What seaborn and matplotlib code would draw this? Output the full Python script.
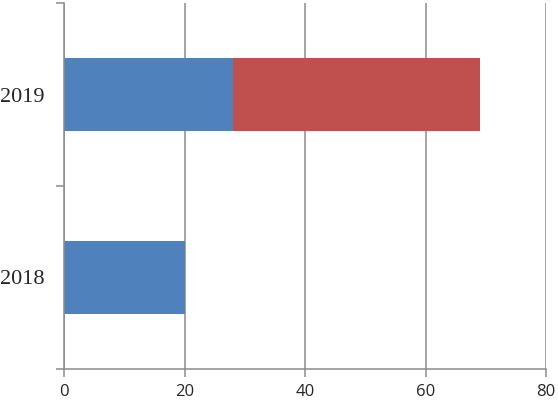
import numpy as np
import pandas as pd
import seaborn as sns
import matplotlib.pyplot as plt
from matplotlib.ticker import FixedLocator

years = ['2019', '2018']
blue_vals = [28, 20]
red_vals = [41, 0]
xticks = [0, 20, 40, 60, 80]

sns.set_style("white")

df = pd.DataFrame({'year': years, 'blue': blue_vals, 'red': red_vals})
df['total'] = df['blue'] + df['red']

fig = plt.figure(figsize=(5.58, 4.03), dpi=100)
ax = fig.add_axes([64 / 558, 1 - 369 / 403, 482 / 558, 366 / 403])

sns.barplot(data=df, x='total', y='year', order=years, color='#C0504D',
            saturation=1, width=0.4, ax=ax)
sns.barplot(data=df, x='blue', y='year', order=years, color='#4F81BD',
            saturation=1, width=0.4, ax=ax)
for p in ax.patches:
    p.set_edgecolor('none')

grey = '#8c8c8c'
ax.set_xlim(0, 80)
ax.set_ylim(1.5, -0.5)
ax.xaxis.grid(True, color=grey, linewidth=1.1)
ax.set_axisbelow(True)
ax.set_xlabel('')
ax.set_ylabel('')

ax.set_yticks([0, 1], labels=years, fontfamily='Liberation Serif', fontsize=16)
ax.set_xticks(xticks, labels=[str(v) for v in xticks], fontfamily='Open Sans', fontsize=12)

for s in ['top', 'right']:
    ax.spines[s].set_visible(False)
for s in ['left', 'bottom']:
    ax.spines[s].set_color(grey)
    ax.spines[s].set_linewidth(1.1)

ax.yaxis.set_minor_locator(FixedLocator([-0.5, 0.5, 1.5]))
ax.tick_params(axis='y', which='major', length=0, pad=14)
ax.tick_params(axis='y', which='minor', length=6, width=1.1, color=grey, left=True)
ax.tick_params(axis='x', which='major', length=6, width=1.1, color=grey, bottom=True, pad=5)

fig.savefig('out.png', dpi=100)
